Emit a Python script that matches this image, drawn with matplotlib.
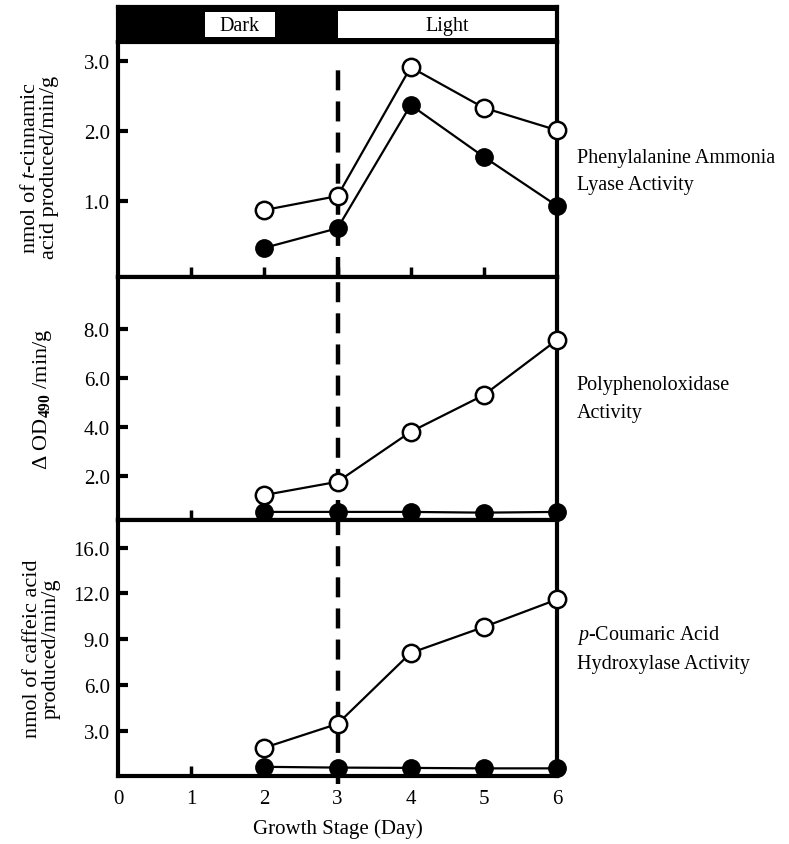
import matplotlib
matplotlib.use("Agg")
import matplotlib.pyplot as plt
from matplotlib.patches import Rectangle

plt.rcParams['font.family'] = ['Liberation Serif', 'DejaVu Serif']
plt.rcParams['mathtext.fontset'] = 'custom'
plt.rcParams['mathtext.rm'] = 'Liberation Serif'
plt.rcParams['mathtext.it'] = 'Liberation Serif:italic'
plt.rcParams['mathtext.bf'] = 'Liberation Serif:bold'

# ---- data ----
days = [2, 3, 4, 5, 6]
pal_open = [0.87, 1.07, 2.91, 2.33, 2.01]
pal_filled = [0.33, 0.61, 2.37, 1.63, 0.93]
ppo_open = [1.22, 1.76, 3.8, 5.3, 7.55]
ppo_filled = [0.53, 0.53, 0.53, 0.5, 0.53]
cah_open = [1.9, 3.46, 8.1, 9.8, 11.6]
cah_filled = [0.65, 0.6, 0.58, 0.55, 0.55]

x_ticks = [0, 1, 2, 3, 4, 5, 6]
pal_yticks = [1.0, 2.0, 3.0]
ppo_yticks = [2.0, 4.0, 6.0, 8.0]
cah_yticks = [3.0, 6.0, 9.0, 12.0, 15.0]
cah_yticklabels = ['3.0', '6.0', '9.0', '12.0', '16.0']

dark_box = (1.19, 2.14)
light_box = (3.0, 6.0)
switch_day = 3

titles = ["Phenylalanine Ammonia\nLyase Activity",
          "Polyphenoloxidase\nActivity",
          "$p$-Coumaric Acid\nHydroxylase Activity"]
ylabels = ["nmol of $t$-cinnamic\nacid produced/min/g",
           "$\\Delta$ OD$_{\\mathbf{490}}$ /min/g",
           "nmol of caffeic acid\nproduced/min/g"]

W, H = 789, 845
fig = plt.figure(figsize=(W / 100, H / 100), dpi=100)

def fa(x0, y0, x1, y1):
    return [x0 / W, 1 - y1 / H, (x1 - x0) / W, (y1 - y0) / H]

L, R = 118, 557
ax_bar = fig.add_axes(fa(L, 8, R, 43))
ax1 = fig.add_axes(fa(L, 43, R, 278))
ax2 = fig.add_axes(fa(L, 278, R, 521))
ax3 = fig.add_axes(fa(L, 521, R, 777))

# top light/dark bar
ax_bar.set_xlim(0, 6)
ax_bar.set_ylim(0, 1)
ax_bar.set_facecolor('black')
ax_bar.set_xticks([]); ax_bar.set_yticks([])
for s in ax_bar.spines.values():
    s.set_linewidth(3)
ax_bar.add_patch(Rectangle((dark_box[0], 0.15), dark_box[1] - dark_box[0], 0.72,
                           facecolor='white', edgecolor='none'))
ax_bar.add_patch(Rectangle((light_box[0], 0.12), light_box[1] - light_box[0] - 0.01, 0.76,
                           facecolor='white', edgecolor='none'))
ax_bar.text(sum(dark_box) / 2, 0.48, "Dark", ha='center', va='center', fontsize=14.5)
ax_bar.text(sum(light_box) / 2, 0.48, "Light", ha='center', va='center', fontsize=14.5)

panels = [
    (ax1, pal_open, pal_filled, (-0.086, 3.27), pal_yticks, [f"{v:.1f}" for v in pal_yticks]),
    (ax2, ppo_open, ppo_filled, (0.2, 10.12), ppo_yticks, [f"{v:.1f}" for v in ppo_yticks]),
    (ax3, cah_open, cah_filled, (0.05, 16.8), cah_yticks, cah_yticklabels),
]

label_x = [-0.135, -0.145, -0.13]
label_y = [0.47, 0.5, 0.5]
for i, (ax, yo, yf, ylim, yt, ytl) in enumerate(panels):
    ax.set_xlim(0, 6)
    ax.set_ylim(*ylim)
    for s in ax.spines.values():
        s.set_linewidth(3)
    ax.plot(days, yf, '-', color='black', lw=1.6, marker='o', markersize=12.5,
            markerfacecolor='black', markeredgecolor='black', zorder=4, clip_on=False)
    ax.plot(days, yo, '-', color='black', lw=1.6, marker='o', markersize=12.5,
            markerfacecolor='white', markeredgecolor='black', markeredgewidth=1.8,
            zorder=5, clip_on=False)
    ax.set_yticks(yt)
    ax.set_yticklabels(ytl)
    ax.tick_params(axis='y', direction='in', length=7, width=3, labelsize=15, pad=6)
    ax.set_xticks([1, 2, 3, 4, 5], minor=False)
    ax.tick_params(axis='x', direction='in', length=7, width=2.5, labelbottom=False)
    ax.set_ylabel(ylabels[i], fontsize=16, linespacing=1.0)
    ax.yaxis.set_label_coords(label_x[i], label_y[i])
    ax.text(1.045, 0.5 if i != 0 else 0.45, titles[i], transform=ax.transAxes,
            ha='left', va='center', fontsize=14.5, linespacing=1.6)

ax1.axvline(switch_day, ymin=0, ymax=0.92, color='black', lw=3.2,
            dashes=(4.5, 2.5), zorder=3)
ax2.axvline(switch_day, ymin=0, ymax=1, color='black', lw=3.2,
            dashes=(4.5, 2.5), zorder=3)
ax3.axvline(switch_day, ymin=-0.03, ymax=1, color='black', lw=3.2,
            dashes=(4.5, 2.5), zorder=3, clip_on=False)

ax3.set_xticks(x_ticks)
ax3.set_xticklabels([str(v) for v in x_ticks])
ax3.tick_params(axis='x', labelbottom=True, labelsize=15, pad=9)
ax3.set_xlabel("Growth Stage (Day)", fontsize=15, labelpad=8)
for t in ax3.xaxis.get_major_ticks():
    if t.get_loc() in (0, 6):
        t.tick1line.set_visible(False)

fig.savefig("out.png", dpi=100)
